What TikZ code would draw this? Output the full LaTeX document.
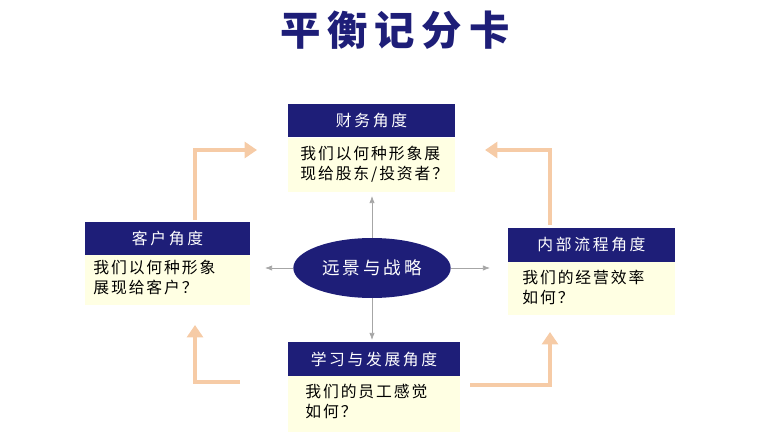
\documentclass[tikz,border=0pt]{standalone}
\usepackage{fontspec}
\setmainfont{Noto Sans CJK SC}
\usetikzlibrary{positioning,arrows.meta,shapes.geometric}
\definecolor{navy}{HTML}{1E1E78}
\definecolor{cream}{HTML}{FFFFE3}
\definecolor{peach}{HTML}{F6CBA6}
\begin{document}
\begin{tikzpicture}[x=0.02cm,y=-0.02cm,
  head/.style = {fill=navy, text=white, minimum height=0.68cm, font=\small, inner sep=0pt},
  body/.style = {fill=cream, font=\small\addfontfeature{LetterSpace=12}, align=left, anchor=north west, inner sep=0pt},
  spoke/.style = {draw=gray!70, -{Latex[length=4pt]}},
  loop/.style = {draw=peach, line width=2.6pt, -{Triangle[length=7pt,width=9pt]}}
  ]
  \useasboundingbox (0,0) rectangle (759,442);
  \node[font=\bfseries\fontsize{23}{27}\selectfont, text=navy] (title) at (395,30) {平\,衡\,记\,分\,卡};
  % top
  \fill[cream] (288,138) rectangle (455,192);
  \node[head, minimum width=3.34cm] (fin) at (371.5,120.5) {财\,务\,角\,度};
  \node[body] (fintext) at (300,146) {我们以何种形象展\\现给股东/投资者？};
  % left
  \fill[cream] (85,255) rectangle (250,305);
  \node[head, minimum width=3.3cm] (cus) at (167.5,238.5) {客\,户\,角\,度};
  \node[body] (custext) at (93,260) {我们以何种形象\\展现给客户？};
  % right
  \fill[cream] (508,262) rectangle (675,315);
  \node[head, minimum width=3.34cm] (int) at (591.5,245) {内\,部\,流\,程\,角\,度};
  \node[body] (inttext) at (522,270) {我们的经营效率\\如何？};
  % bottom
  \fill[cream] (288,376) rectangle (460,432);
  \node[head, minimum width=3.44cm] (lrn) at (374,359) {学\,习\,与\,发\,展\,角\,度};
  \node[body] (lrntext) at (305,384) {我们的员工感觉\\如何？};
  % centre
  \node[ellipse, fill=navy, text=white, minimum width=2.9cm, minimum height=1.2cm] (vis) at (372,268) {远\,景\,与\,战\,略};
  \coordinate (t) at (372,196);
  \coordinate (l) at (265,268);
  \coordinate (r) at (490,268);
  \coordinate (b) at (372,340);
  \draw[spoke] (vis.north) -- (t);
  \draw[spoke] (vis.west) -- (l);
  \draw[spoke] (vis.east) -- (r);
  \draw[spoke] (vis.south) -- (b);
  % cycle
  \draw[loop] (195,220) |- (257,150);
  \draw[loop] (550,225) |- (485,150);
  \draw[loop] (470,385) -| (550,332);
  \draw[loop] (240,382) -| (195,325);
\end{tikzpicture}
\end{document}
